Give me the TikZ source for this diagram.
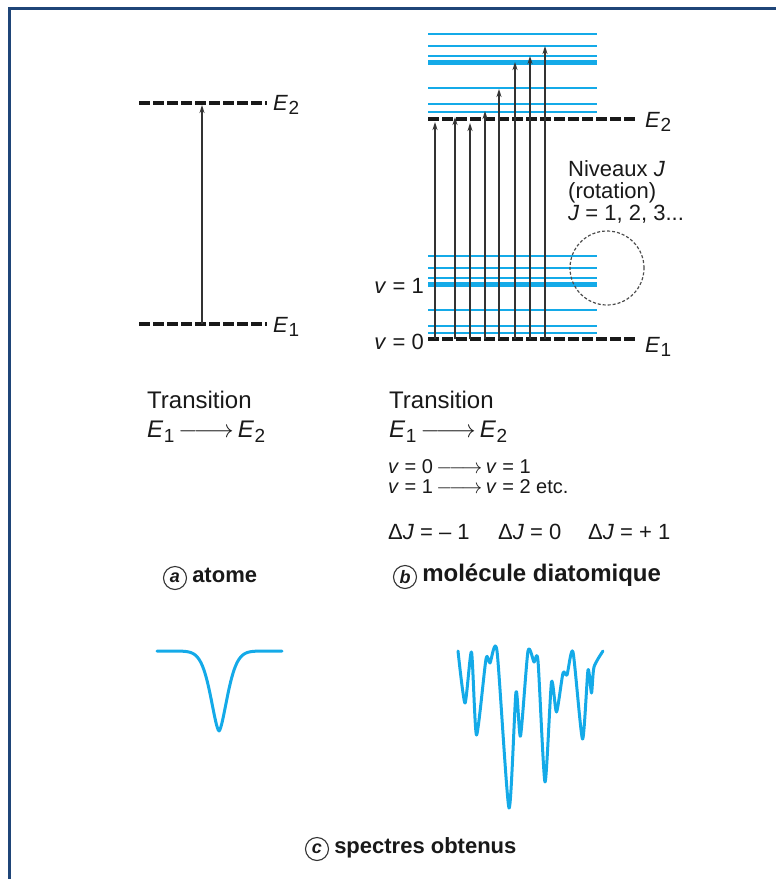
\documentclass[tikz,border=0pt]{standalone}
\usepackage{fontspec}
\setmainfont{Liberation Sans}
\usetikzlibrary{arrows.meta, positioning, calc}
\definecolor{levblue}{RGB}{20,170,232}
\definecolor{framebl}{RGB}{31,69,120}
\newcommand{\En}[1]{\textit{E}\kern0.5pt\raisebox{-0.22em}{\fontsize{19}{19}\selectfont #1}}
\newcommand{\lto}{\,$\relbar\joinrel\relbar\joinrel\rightarrow$\,}

\begin{document}
\begin{tikzpicture}[
    x=1pt, y=-1pt,
    txt/.style={font=\fontsize{24}{28}\selectfont, text=black!90, inner sep=0pt, text height=0.72em, text depth=0.18em, anchor=base west},
    small/.style={txt, font=\fontsize{22}{24}\selectfont},
    tiny/.style={txt, font=\fontsize{20}{22}\selectfont},
    lab/.style={small, anchor=base east},
    circlab/.style={circle, draw=black!80, line width=1.1pt, inner sep=0pt, minimum size=23pt, font=\fontsize{18}{18}\selectfont\bfseries\itshape, text=black!90},
    level/.style={line width=4pt, black!90, dash pattern=on 11pt off 3pt},
    rotlev/.style={levblue, line width=1.5pt},
    vibrlev/.style={levblue, line width=5pt},
    trans/.style={-{Stealth[length=8pt, width=5pt]}, line width=1.6pt, black!80},
    spec/.style={levblue, line width=3pt, line join=round, line cap=round},
    frame/.style={framebl, line width=3pt}
]
    \useasboundingbox (0,0) rectangle (776,879);
    \draw[frame] (9,879) -- (9,8.5) -- (776,8.5);

    % (a) atome
    \draw[level] (139,103) -- (267,103);
    \draw[level] (139,324) -- (267,324);
    \node[small] (aE2) at (273,110) {\En{2}};
    \node[small] (aE1) at (273,332) {\En{1}};
    \coordinate (alo) at (202,324);
    \coordinate (ahi) at (202,105);
    \draw[trans] (alo) -- (ahi);
    \node[txt] (atr) at (147,408) {Transition};
    \node[txt] (aen) at (147,437) {\En{1}\lto\En{2}};
    \node[circlab] (ca) at (175,578) {a};
    \node[small, anchor=west, right=5pt of ca, yshift=-1.5pt] (ta) {\textbf{atome}};

    % (b) molecule diatomique
    \foreach \y in {34,46,56,88,104,112,256,268,278,310,326,333} {
        \draw[rotlev] (428,\y) -- (597,\y);
    }
    \draw[vibrlev] (428,62) -- (597,62);
    \draw[vibrlev] (428,284) -- (597,284);
    \draw[level] (428,119) -- (638,119);
    \draw[level] (428,339) -- (638,339);
    \foreach \x/\t [count=\i] in {435/122,455/117,470/123,485/111,499/89,515/62,530/56,545/46} {
        \coordinate (lo\i) at (\x,339);
        \coordinate (hi\i) at (\x,\t);
        \draw[trans] (lo\i) -- (hi\i);
    }
    \node[small] (bE2) at (645,127) {\En{2}};
    \node[small] (bE1) at (645,352) {\En{1}};
    \node[lab] (v1) at (424,293) {\textit{v} = 1};
    \node[lab] (v0) at (424,349) {\textit{v} = 0};
    \node[circle, draw=black!70, line width=1.2pt, dash pattern=on 3pt off 2pt, minimum size=74pt] (zoomJ) at (607,268) {};
    \node[small] (nivJ) at (568,176) {Niveaux \textit{J}};
    \node[small] (rot) at (568,198) {(rotation)};
    \node[small] (Jval) at (568,220) {\textit{J} = 1, 2, 3...};
    \node[txt] (btr) at (389,408) {Transition};
    \node[txt] (ben) at (389,437) {\En{1}\lto\En{2}};
    \node[tiny] (bv0) at (388,473) {\textit{v} = 0\lto\textit{v} = 1};
    \node[tiny] (bv1) at (388,493) {\textit{v} = 1\lto\textit{v} = 2 etc.};
    \node[small] (dJm) at (388,539) {Δ\textit{J} = – 1};
    \node[small] (dJz) at (498,539) {Δ\textit{J} = 0};
    \node[small] (dJp) at (588,539) {Δ\textit{J} = + 1};
    \node[circlab] (cb) at (405,577) {b};
    \node[txt, anchor=west, right=5pt of cb, yshift=-1.5pt] (tb) {\textbf{molécule diatomique}};

    % (c) spectres
    \draw[spec] plot[domain=157:282, samples=150] (\x, {651+80*exp(-((abs(\x-219)+0.01)/12)^1.6)});
    \draw[spec] plot[smooth, tension=0.4] coordinates {
        (458,651) (465,703) (471.5,652) (476.5,735) (486,659) (490,663) (497,651)
        (509,808) (516,692) (520.5,736) (528,651) (534,662) (538,661) (545,782)
        (551.5,682) (556.5,712) (563,673) (567,675) (573,652) (582.5,739)
        (588,670) (591.5,693) (594,667) (603,651)};
    \node[circlab] (cc) at (317,849) {c};
    \node[small, anchor=west, right=5pt of cc, yshift=-1.5pt] (tc) {\textbf{spectres obtenus}};
\end{tikzpicture}
\end{document}
